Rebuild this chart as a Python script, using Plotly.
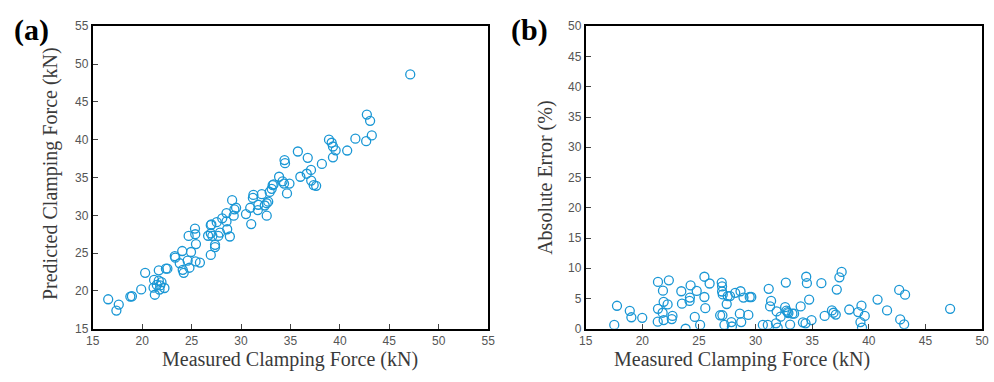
import plotly.graph_objects as go

# Panel (a): measured vs predicted clamping force (kN)
meas_a = [16.56, 17.63, 17.39, 18.8, 18.96, 19.9, 20.3, 21.2, 21.68, 21.95, 21.48, 21.82, 22.25, 21.15,
          21.75, 21.28, 21.68, 22.4, 22.55, 23.3, 23.35, 23.8, 24.05, 24.1, 24.2, 24.6, 24.78, 24.94,
          24.7, 25.34, 25.37, 25.44, 25.4, 25.84, 26.67, 26.94, 26.94, 27.0, 27.1, 26.94, 27.37, 27.37,
          27.54, 27.7, 27.87, 28.1, 28.53, 28.53, 28.6, 28.87, 29.1, 29.26, 29.33, 29.5, 30.5, 30.93,
          31.03, 31.2, 31.25, 31.7, 31.75, 32.1, 32.4, 32.6, 32.75, 32.6, 32.9, 33.1, 33.3, 33.2, 33.85,
          34.2, 34.35, 34.65, 34.9, 36.0, 36.65, 37.1, 37.35, 37.6, 34.4, 34.45, 35.75, 36.75, 37.08,
          38.18, 38.9, 39.17, 39.3, 39.57, 39.3, 40.74, 41.57, 42.66, 42.73, 43.06, 43.23, 47.12]
pred_a = [18.9, 18.2, 17.4, 19.25, 19.3, 20.2, 22.4, 21.46, 21.37, 21.16, 20.8, 20.73, 20.39, 20.43,
          20.18, 19.5, 22.73, 22.94, 22.94, 24.6, 24.4, 23.66, 25.28, 22.8, 22.4, 24.0, 23.07, 25.15,
          27.27, 28.25, 27.5, 26.2, 23.9, 23.75, 27.3, 27.6, 28.7, 28.8, 27.27, 24.77, 26.1, 25.8,
          29.1, 27.27, 27.7, 29.6, 30.3, 29.2, 28.16, 27.2, 32.0, 29.95, 30.8, 31.0, 30.16, 31.0,
          28.84, 32.3, 32.7, 30.7, 31.4, 32.8, 31.3, 31.6, 31.8, 29.95, 33.1, 33.5, 34.1, 34.0, 35.1,
          34.5, 34.2, 32.9, 34.2, 35.1, 35.5, 34.6, 34.0, 33.9, 37.3, 36.9, 38.44, 37.6, 36.0,
          36.8, 40.0, 39.6, 39.1, 38.6, 37.67, 38.57, 40.14, 39.8, 43.32, 42.5, 40.56, 48.63]

# Panel (b): measured force (kN) vs absolute error (%)
meas_b = [17.52, 17.76, 18.89, 19.03, 19.99, 21.38, 21.38, 21.36, 21.82, 21.88, 21.79, 21.88, 22.23,
          22.34, 22.66, 22.6, 23.44, 23.5, 23.82, 24.26, 24.2, 24.17, 24.63, 24.8, 25.1, 25.48, 25.48,
          25.56, 25.94, 27.01, 27.04, 27.04, 27.1, 26.87, 27.07, 27.25, 27.45, 27.54, 27.74, 27.86,
          27.91, 28.2, 28.61, 28.67, 28.73, 28.93, 29.36, 29.48, 29.62, 30.64, 31.08, 31.16, 31.28,
          31.37, 31.86, 31.8, 31.95, 32.21, 32.67, 32.61, 32.73, 32.9, 32.82, 33.05, 33.25, 33.4,
          33.98, 34.18, 34.41, 34.47, 34.53, 34.73, 34.94, 35.81, 36.1, 36.74, 36.88, 37.08, 37.17,
          37.4, 37.6, 38.27, 39.06, 39.35, 39.26, 39.4, 39.64, 40.77, 41.61, 42.68, 42.77, 43.2,
          43.12, 47.18]
err_b = [0.64, 3.8, 2.97, 1.9, 1.8, 7.75, 3.3, 1.17, 6.3, 4.46, 2.65, 1.43, 4.03,
         8.0, 2.12, 1.6, 6.2, 4.14, 0.0, 7.17, 5.15, 4.6, 1.96, 6.26, 0.64, 8.6, 5.25,
         3.4, 7.48, 7.64, 7.0, 6.16, 5.68, 2.23, 2.23, 0.64, 4.09, 5.41, 5.41, 1.11,
         0.37, 5.94, 2.5, 6.2, 1.11, 5.15, 2.28, 5.25, 5.25, 0.64, 0.64, 6.6, 3.7,
         4.6, 2.87, 0.9, 0.2, 2.0, 7.64, 3.56, 3.0, 2.6, 2.76, 0.69, 2.5, 2.5,
         3.7, 1.06, 0.9, 8.6, 7.54, 4.83, 1.43, 7.54, 2.12, 3.03, 2.65, 2.34, 6.48,
         8.5, 9.4, 3.18, 2.76, 3.82, 1.11, 0.2, 2.12, 4.83, 3.03, 6.42, 1.54, 5.63,
         0.74, 3.3]

ticks_a = list(range(15, 60, 5))
ticks_bx = list(range(15, 55, 5))
ticks_by = list(range(0, 55, 5))

BLUE = "#1a97d5"
marker = dict(symbol="circle-open", size=9, color=BLUE, line=dict(width=1.3, color=BLUE))

fig = go.Figure()
fig.add_trace(go.Scatter(x=meas_a, y=pred_a, mode="markers", marker=marker, xaxis="x", yaxis="y",
                         showlegend=False))
fig.add_trace(go.Scatter(x=meas_b, y=err_b, mode="markers", marker=marker, xaxis="x2", yaxis="y2",
                         showlegend=False))

tickfont = dict(family="Liberation Sans, Arial", size=12, color="#555555")
common = dict(showline=True, linewidth=2, linecolor="black", mirror=True, ticks="inside",
              ticklen=5, tickwidth=1, tickcolor="#444444", showgrid=False, zeroline=False,
              tickfont=tickfont)

W, H = 994, 382
ax_top = 1 - 20 / H
ax_bot = 1 - 334 / H

fig.update_layout(
    width=W, height=H, margin=dict(l=0, r=0, t=0, b=0),
    paper_bgcolor="white", plot_bgcolor="white",
    xaxis=dict(domain=[87 / W, 488 / W], range=[15, 55], tickvals=ticks_a, anchor="y", **common),
    yaxis=dict(domain=[ax_bot, ax_top], range=[15, 55], tickvals=ticks_a, anchor="x", **common),
    xaxis2=dict(domain=[587 / W, 989 / W], range=[15, 50], tickvals=ticks_bx, anchor="y2", **common),
    yaxis2=dict(domain=[ax_bot, ax_top], range=[0, 50], tickvals=ticks_by, anchor="x2", **common),
)

titlefont = dict(family="Liberation Serif, Times New Roman", size=20, color="#3a3a3a")
labelfont = dict(family="Liberation Serif, Times New Roman", size=30, color="black")
ann = [
    dict(text="Measured Clamping Force (kN)", x=287 / W, y=1 - 366 / H, xanchor="center", yanchor="middle",
         font=titlefont),
    dict(text="Measured Clamping Force (kN)", x=745 / W, y=1 - 366 / H, xanchor="center", yanchor="middle",
         font=titlefont),
    dict(text="Predicted Clamping Force (kN)", x=44 / W, y=1 - 173 / H, xanchor="center", yanchor="middle",
         textangle=-90, font=titlefont),
    dict(text="Absolute Error (%)", x=546 / W, y=1 - 177 / H, xanchor="center", yanchor="middle",
         textangle=-90, font=titlefont),
    dict(text="<b>(a)</b>", x=5 / W, y=1 - 24 / H, xanchor="left", yanchor="middle", font=labelfont),
    dict(text="<b>(b)</b>", x=509 / W, y=1 - 24 / H, xanchor="left", yanchor="middle", font=labelfont),
]
for a in ann:
    a.update(xref="paper", yref="paper", showarrow=False)
fig.update_layout(annotations=ann)

fig.write_html("out.html")
